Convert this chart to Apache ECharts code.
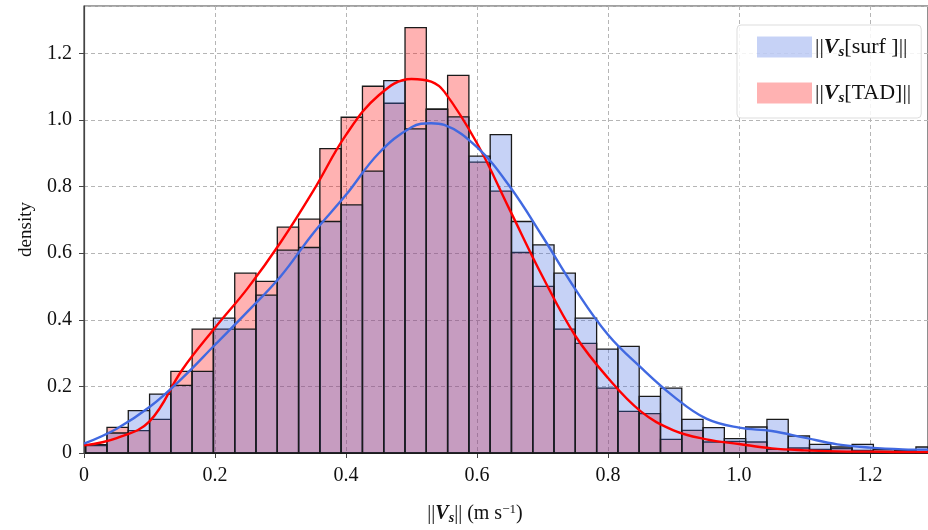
<!DOCTYPE html>
<html>
<head>
<meta charset="utf-8">
<script src="https://cdn.jsdelivr.net/npm/echarts@6/dist/echarts.min.js"></script>
<style>html,body{margin:0;padding:0;background:#fff;}#c{width:928px;height:530px;}</style>
</head>
<body>
<div id="c"></div>
<script>
// Histogram bins
const binStart = 0.0026;
const binWidth = 0.0325;
const surfDensity = [0.025,0.060,0.127,0.177,0.203,0.245,0.405,0.372,0.474,0.609,0.617,0.695,0.745,0.846,1.118,0.973,1.032,1.009,0.891,0.956,0.695,0.625,0.540,0.405,0.312,0.320,0.170,0.195,0.101,0.076,0.043,0.078,0.101,0.051,0.026,0.018,0.026,0.010,0.007,0.018];
const tadDensity  = [0.022,0.077,0.067,0.101,0.245,0.372,0.372,0.540,0.515,0.678,0.702,0.914,1.008,1.101,1.050,1.277,1.032,1.134,0.873,0.786,0.602,0.500,0.372,0.329,0.195,0.125,0.118,0.041,0.068,0.033,0.035,0.033,0.011,0.015,0.011,0.013,0.008,0.005,0.004,0.004];
// KDE curves
const kdeX    = [0,0.05,0.10,0.15,0.20,0.25,0.30,0.35,0.40,0.45,0.50,0.53,0.55,0.60,0.65,0.70,0.75,0.80,0.85,0.90,0.95,1.00,1.05,1.10,1.15,1.20,1.25,1.29];
const surfKde = [0.028,0.073,0.138,0.225,0.325,0.425,0.530,0.660,0.775,0.900,0.978,0.990,0.985,0.918,0.800,0.650,0.492,0.355,0.257,0.170,0.103,0.076,0.066,0.046,0.026,0.016,0.011,0.010];
const tadKde  = [0.023,0.045,0.095,0.250,0.376,0.495,0.632,0.787,0.955,1.074,1.123,1.115,1.085,0.930,0.730,0.530,0.352,0.225,0.125,0.068,0.041,0.027,0.014,0.008,0.005,0.004,0.003,0.003];
const xTicks = [0,0.2,0.4,0.6,0.8,1.0,1.2];
const yTicks = [0,0.2,0.4,0.6,0.8,1.0,1.2];

const blueFill = 'rgba(65,105,225,0.3)';
const redFill = 'rgba(255,0,0,0.3)';

function binData(arr){ return arr.map((d,i)=>[binStart+i*binWidth, binStart+(i+1)*binWidth, d]); }
function curve(xs, ys){ return xs.map((x,i)=>[x, ys[i]]); }
function histRender(fill){
  return function(params, api){
    const p0 = api.coord([api.value(0), api.value(2)]);
    const p1 = api.coord([api.value(1), 0]);
    const shape = echarts.graphic.clipRectByRect(
      {x:p0[0], y:p0[1], width:p1[0]-p0[0], height:p1[1]-p0[1]},
      {x:params.coordSys.x, y:params.coordSys.y, width:params.coordSys.width, height:params.coordSys.height});
    if(!shape) return null;
    return {type:'rect', shape: shape, style:{fill:fill, stroke:'#1a1a1a', lineWidth:1.3}};
  };
}
function tickFmt(list){
  return function(v){
    const r = Math.round(v*10)/10;
    if (Math.abs(v-r) > 1e-6 || list.indexOf(r) < 0) return '';
    return r === 0 ? '0' : r.toFixed(1);
  };
}
const serif = 'Liberation Serif';
const mathRich = {
  n:{fontFamily:serif, fontSize:22, color:'#111', lineHeight:26},
  bi:{fontFamily:serif, fontSize:22, fontWeight:'bold', fontStyle:'italic', color:'#111', lineHeight:26},
  sub:{fontFamily:serif, fontSize:15, fontWeight:'bold', fontStyle:'italic', color:'#111', lineHeight:16, verticalAlign:'bottom'}
};
const xmax = 1.2885, ymax = 1.342;
const chart = echarts.init(document.getElementById('c'), null, {renderer:'canvas'});
chart.setOption({
  animation:false,
  backgroundColor:'#fff',
  grid:{left:84, top:6, right:0, bottom:76, show:true, borderColor:'#444', borderWidth:1.2, containLabel:false},
  legend:{
    orient:'vertical', left:737, top:25, padding:[11,10,12,20], itemGap:22,
    itemWidth:55, itemHeight:21, icon:'rect',
    backgroundColor:'rgba(255,255,255,0.85)', borderColor:'#ddd', borderWidth:1, borderRadius:4,
    data:[
      {name:'surf', itemStyle:{color:blueFill, borderWidth:0}},
      {name:'TAD', itemStyle:{color:redFill, borderWidth:0}}
    ],
    formatter:function(name){ return name==='surf' ? '{n|||}{bi|V}{sub|s}{n|[surf ]||}' : '{n|||}{bi|V}{sub|s}{n|[TAD]||}'; },
    textStyle:{padding:[0,0,0,-2], rich:mathRich}
  },
  xAxis:{
    type:'value', min:0, max:xmax, interval:0.2,
    name:'{n|||}{bi|V}{sub|s}{n||| (m s}{sup|−1}{n|)}',
    nameLocation:'middle', nameGap:50,
    nameTextStyle:{padding:[0,62,0,0], rich:{
      n:{fontFamily:serif, fontSize:20, color:'#111', lineHeight:22},
      bi:{fontFamily:serif, fontSize:20, fontWeight:'bold', fontStyle:'italic', color:'#111', lineHeight:22},
      sub:{fontFamily:serif, fontSize:14, fontWeight:'bold', fontStyle:'italic', color:'#111', lineHeight:13, verticalAlign:'bottom'},
      sup:{fontFamily:serif, fontSize:13, color:'#111', lineHeight:12, verticalAlign:'top'}
    }},
    axisLine:{show:true, lineStyle:{color:'#444', width:1.2}},
    axisTick:{show:true, length:5, lineStyle:{color:'#444'}},
    axisLabel:{fontFamily:serif, fontSize:20, color:'#111', margin:13, showMaxLabel:false, formatter:tickFmt(xTicks)},
    splitLine:{show:true, lineStyle:{color:'#b5b5b5', type:[4,3], width:1}}
  },
  yAxis:{
    type:'value', min:0, max:ymax, interval:0.2,
    name:'density', nameLocation:'middle', nameGap:48,
    nameTextStyle:{fontFamily:serif, fontSize:19, color:'#111'},
    axisLine:{show:true, lineStyle:{color:'#444', width:1.2}},
    axisTick:{show:true, length:5, lineStyle:{color:'#444'}},
    axisLabel:{fontFamily:serif, fontSize:20, color:'#111', margin:12, showMaxLabel:false, formatter:tickFmt(yTicks)},
    splitLine:{show:true, lineStyle:{color:'#b5b5b5', type:[4,3], width:1}}
  },
  series:[
    {name:'TAD', type:'custom', renderItem:histRender(redFill), data:binData(tadDensity), itemStyle:{color:redFill}, encode:{x:[0,1], y:2}, z:2},
    {name:'surf', type:'custom', renderItem:histRender(blueFill), data:binData(surfDensity), itemStyle:{color:blueFill}, encode:{x:[0,1], y:2}, z:3},
    {name:'TAD', type:'line', data:curve(kdeX, tadKde), smooth:0.4, showSymbol:false, lineStyle:{color:'#ff0000', width:2.4}, itemStyle:{color:'#ff0000'}, z:5},
    {name:'surf', type:'line', data:curve(kdeX, surfKde), smooth:0.4, showSymbol:false, lineStyle:{color:'#4169e1', width:2.4}, itemStyle:{color:'#4169e1'}, z:6}
  ]
});
</script>
</body>
</html>
